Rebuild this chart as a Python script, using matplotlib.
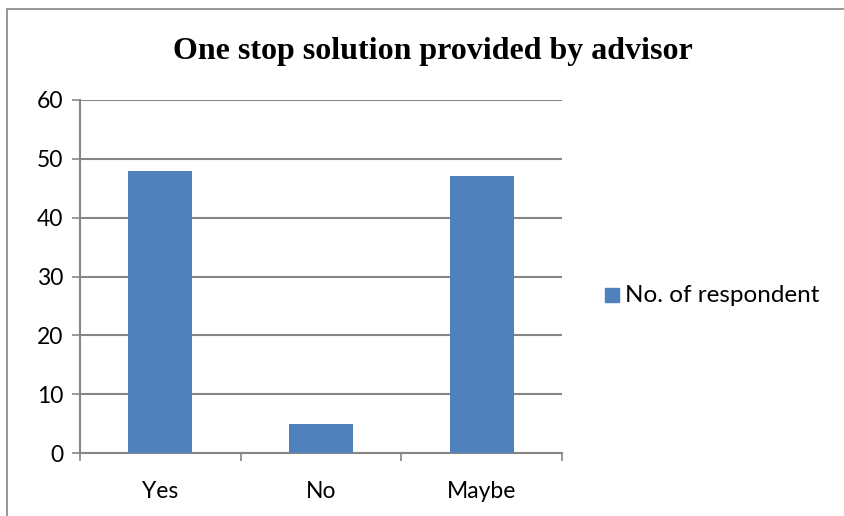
import numpy as np
import matplotlib
matplotlib.use("Agg")
import matplotlib.pyplot as plt
from matplotlib.patches import Rectangle

categories = ["Yes", "No", "Maybe"]
respondents = [48, 5, 47]
series_name = "No. of respondent"
y_ticks = [0, 10, 20, 30, 40, 50, 60]

bar_color = "#4F81BD"
grid_color = "#868686"

fig = plt.figure(figsize=(8.44, 5.16), dpi=100)
W, H = 844, 516

# outer chart frame
fig.patches.append(Rectangle((7 / W, -0.1), 1.2, 1 - 9 / H + 0.1, transform=fig.transFigure,
                             fill=False, edgecolor="#868686", linewidth=1.2))

ax = fig.add_axes([80 / W, 1 - 453 / H, (562 - 80) / W, (453 - 100) / H])
x = np.arange(len(categories))
ax.bar(x, respondents, width=0.4, color=bar_color, zorder=3)

ax.set_xlim(-0.5, len(categories) - 0.5)
ax.set_ylim(0, 60)
ax.set_yticks(y_ticks)
ax.yaxis.grid(True, color=grid_color, linewidth=1.5, zorder=0)

ax.set_xticks(x)
ax.set_xticklabels(categories)
ax.set_xticks(np.arange(len(categories) + 1) - 0.5, minor=True)
ax.tick_params(axis="x", which="major", length=0, pad=20, labelsize=16.5)
ax.tick_params(axis="x", which="minor", length=6, width=1.2, color=grid_color)
ax.tick_params(axis="y", length=6, width=1.2, color=grid_color, pad=6, labelsize=16.5)
for lab in ax.get_xticklabels() + ax.get_yticklabels():
    lab.set_family("Lato")

for side in ["top", "right"]:
    ax.spines[side].set_visible(False)
for side in ["left", "bottom"]:
    ax.spines[side].set_color(grid_color)
    ax.spines[side].set_linewidth(1.5)

fig.text(433 / W, 1 - 52 / H, "One stop solution provided by advisor", ha="center", va="center",
         fontsize=23, fontweight="bold", family="Liberation Serif")

# legend
fig.patches.append(Rectangle((605 / W, 1 - 302 / H), 14 / W, 14 / H, transform=fig.transFigure,
                             color=bar_color))
fig.text(625 / W, 1 - 295 / H, series_name, ha="left", va="center", fontsize=17.5, family="Lato")

fig.savefig("out.png", dpi=100)
